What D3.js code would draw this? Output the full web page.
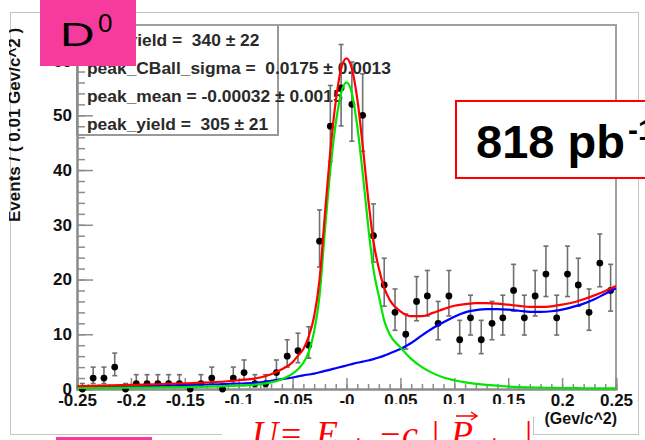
<!DOCTYPE html>
<html>
<head>
<meta charset="utf-8">
<script src="https://cdn.jsdelivr.net/npm/d3@7"></script>
<style>
  html, body { margin: 0; padding: 0; background: #ffffff; }
  svg { display: block; }
</style>
</head>
<body>
<svg id="chart" width="645" height="440"></svg>
<script>
// ---- data: D0 candidates per 0.01 GeV/c^2 bin of U = E_miss - c|P_miss| ----
const binCenters = [
  -0.245, -0.235, -0.225, -0.215, -0.205, -0.195, -0.185, -0.175, -0.165, -0.155,
  -0.145, -0.135, -0.125, -0.115, -0.105, -0.095, -0.085, -0.075, -0.065, -0.055,
  -0.045, -0.035, -0.025, -0.015, -0.005,  0.005,  0.015,  0.025,  0.035,  0.045,
   0.055,  0.065,  0.075,  0.085,  0.095,  0.105,  0.115,  0.125,  0.135,  0.145,
   0.155,  0.165,  0.175,  0.185,  0.195,  0.205,  0.215,  0.225,  0.235,  0.245
];
const counts = [
  0, 2, 2, 4, 0, 1, 1, 1, 1, 1,
  0, 1, 2, 0, 2, 3, 1, 1, 3, 6,
  7, 8, 27, 48, 55, 52, 50, 28, 19, 14,
  10, 16, 17, 12, 17, 9, 13, 9, 12, 13,
  18, 13, 17, 21, 13, 21, 19, 14, 23, 18
];

// fitted curves, sampled along U
const fitU = [
  -0.25, -0.2, -0.15, -0.1, -0.08, -0.07, -0.06, -0.05, -0.045, -0.04,
  -0.035, -0.03, -0.025, -0.02, -0.015, -0.01, -0.005, 0, 0.005, 0.01,
  0.015, 0.02, 0.025, 0.03, 0.035, 0.04, 0.05, 0.06, 0.07, 0.08,
  0.09, 0.1, 0.11, 0.12, 0.13, 0.14, 0.15, 0.16, 0.17, 0.18,
  0.19, 0.2, 0.21, 0.22, 0.23, 0.24, 0.25
];
const fitTotal = [
  0.5, 0.75, 1.05, 1.6, 2.1, 2.7, 3.6, 4.9, 6.1, 7.3,
  9.6, 13.3, 20, 32, 43.5, 52.5, 58.5, 60.4, 58.5, 53,
  44.5, 35, 27, 22, 18.5, 16.3, 14.2, 13.3, 13.3, 13.9,
  14.6, 15.2, 15.5, 15.7, 15.7, 15.6, 15.4, 15.2, 15.0, 15.0,
  15.1, 15.4, 15.8, 16.4, 17.1, 17.9, 18.8
];
const fitSignal = [
  0.2, 0.25, 0.35, 0.6, 0.9, 1.2, 1.8, 2.8, 3.6, 4.8,
  6.8, 10.5, 17, 29, 40, 48.5, 54, 56, 54, 48,
  39.5, 30, 21.8, 17, 12.5, 10, 7.6, 5.5, 4.0, 2.9,
  2.1, 1.6, 1.2, 0.95, 0.75, 0.6, 0.45, 0.35, 0.3, 0.25,
  0.2, 0.18, 0.16, 0.14, 0.12, 0.11, 0.1
];
const fitBackground = [
  0.3, 0.5, 0.7, 1.0, 1.2, 1.5, 1.8, 2.1, 2.3, 2.5,
  2.65, 2.8, 3.05, 3.3, 3.55, 3.8, 4.05, 4.3, 4.55, 4.8,
  5.0, 5.2, 5.45, 5.75, 6.1, 6.5, 7.3, 8.4, 9.8, 11.1,
  12.2, 13.2, 14.0, 14.4, 14.6, 14.6, 14.5, 14.3, 14.1, 14.1,
  14.2, 14.5, 15.0, 15.6, 16.4, 17.4, 18.4
];

const xTickLabels = ["-0.25", "-0.2", "-0.15", "-0.1", "-0.05", "-0", "0.05", "0.1", "0.15", "0.2", "0.25"];
const yTickLabels = ["0", "10", "20", "30", "40", "50", "60"];

const statsLines = [
  "bkg_yield =  340 \u00B1 22",
  "peak_CBall_sigma =  0.0175 \u00B1 0.0013",
  "peak_mean = -0.00032 \u00B1 0.0015",
  "peak_yield =  305 \u00B1 21"
];

// ---- layout ----
const svg = d3.select("#chart");
const frame = { left: 77, right: 616, top: 25, bottom: 389 };
const x = d3.scaleLinear().domain([-0.25, 0.25]).range([frame.left, frame.right]);
const y = d3.scaleLinear().domain([0, 66.5]).range([frame.bottom, frame.top]);
const pink = "#f53c9c";
const axisGrey = "#8c8c8c";
const sansBold = "'Liberation Sans', Arial, sans-serif";

// outer canvas border
svg.append("rect")
  .attr("x", 10.5).attr("y", 12.5).attr("width", 628).attr("height", 422)
  .attr("fill", "none").attr("stroke", "#c4c4c4").attr("stroke-width", 1);

// y-axis title, clipped at the canvas edge
svg.append("clipPath").attr("id", "titleClip")
  .append("rect").attr("x", 9).attr("y", 0).attr("width", 40).attr("height", 440);
svg.append("g").attr("clip-path", "url(#titleClip)")
  .append("text")
  .attr("transform", "translate(20,222) rotate(-90)")
  .attr("font-family", sansBold).attr("font-weight", "bold").attr("font-size", 17)
  .attr("fill", "#111")
  .text("Events / ( 0.01 Gev/c^2 )");

// fit-parameter box
svg.append("rect")
  .attr("x", 77).attr("y", 25).attr("width", 201).attr("height", 110)
  .attr("fill", "#fff").attr("stroke", "#999").attr("stroke-width", 2);
svg.append("g").selectAll("text").data(statsLines).join("text")
  .attr("x", 87).attr("y", (d, i) => 46 + i * 28)
  .attr("font-family", sansBold).attr("font-weight", "bold").attr("font-size", 17.4)
  .attr("fill", "#2a2a2a")
  .attr("xml:space", "preserve")
  .text(d => d);

// plot frame (top and right)
svg.append("path")
  .attr("d", `M${frame.left},${frame.top}H${frame.right}V${frame.bottom}`)
  .attr("fill", "none").attr("stroke", "#a0a0a0").attr("stroke-width", 2);

// y axis: major ticks with labels, minor ticks every 2
const yMajor = yTickLabels.map(Number);
svg.append("g").attr("transform", `translate(${frame.left},0)`)
  .call(d3.axisLeft(y).tickValues(yMajor).tickSize(-16).tickPadding(5)
    .tickFormat((d, i) => yTickLabels[i]));
svg.append("g").attr("transform", `translate(${frame.left},0)`)
  .call(d3.axisLeft(y).tickValues(d3.range(0, 66, 2)).tickSize(-8).tickFormat(""));

// x axis: major every 0.05, minor at each bin edge
const xMajor = xTickLabels.map(Number);
svg.append("g").attr("transform", `translate(0,${frame.bottom})`)
  .call(d3.axisBottom(x).tickValues(xMajor).tickSize(-11).tickPadding(5)
    .tickFormat((d, i) => xTickLabels[i]));
svg.append("g").attr("transform", `translate(0,${frame.bottom})`)
  .call(d3.axisBottom(x).tickValues(d3.range(-25, 26).map(k => k / 100)).tickSize(-5).tickFormat(""));

svg.selectAll(".domain").attr("stroke", axisGrey).attr("stroke-width", 2);
svg.selectAll(".tick line").attr("stroke", axisGrey).attr("stroke-width", 1.5);
svg.selectAll(".tick text")
  .attr("font-family", sansBold).attr("font-weight", "bold").attr("font-size", 17)
  .attr("fill", "#111");

// asymmetric Poisson interval for each bin count
function poissonInterval(n) {
  const s = Math.sqrt(n + 0.25);
  return [n > 0 ? n - s + 0.5 : 0, n + s + 0.5];
}

const pts = binCenters.map((c, i) => ({ c, n: counts[i], iv: poissonInterval(counts[i]) }));
const errG = svg.append("g").attr("stroke", "#707070").attr("stroke-width", 1.6);
errG.selectAll("line.bar").data(pts).join("line").attr("class", "bar")
  .attr("x1", d => x(d.c)).attr("x2", d => x(d.c))
  .attr("y1", d => y(d.iv[0])).attr("y2", d => y(d.iv[1]));
errG.selectAll("line.capHi").data(pts).join("line").attr("class", "capHi")
  .attr("x1", d => x(d.c) - 2.5).attr("x2", d => x(d.c) + 2.5)
  .attr("y1", d => y(d.iv[1])).attr("y2", d => y(d.iv[1]));
errG.selectAll("line.capLo").data(pts.filter(d => d.n > 0)).join("line").attr("class", "capLo")
  .attr("x1", d => x(d.c) - 2.5).attr("x2", d => x(d.c) + 2.5)
  .attr("y1", d => y(d.iv[0])).attr("y2", d => y(d.iv[0]));
svg.append("g").selectAll("circle").data(pts).join("circle")
  .attr("cx", d => x(d.c)).attr("cy", d => y(d.n)).attr("r", 3.4)
  .attr("fill", "#000");

// fit curves: background, signal, total
const line = d3.line().x(d => x(d[0])).y(d => y(d[1])).curve(d3.curveMonotoneX);
const curves = [
  { vals: fitBackground, color: "#0000ff" },
  { vals: fitSignal, color: "#00e600" },
  { vals: fitTotal, color: "#ff0000" }
];
curves.forEach(cv => {
  svg.append("path")
    .datum(fitU.map((u, i) => [u, cv.vals[i]]))
    .attr("d", line)
    .attr("fill", "none").attr("stroke", cv.color).attr("stroke-width", 2.2)
    .attr("stroke-linejoin", "round");
});

// axis unit
svg.append("text")
  .attr("x", 617).attr("y", 424).attr("text-anchor", "end")
  .attr("font-family", sansBold).attr("font-weight", "bold").attr("font-size", 16)
  .attr("fill", "#111")
  .text("(Gev/c^2)");

// luminosity box
svg.append("rect")
  .attr("x", 456).attr("y", 101).attr("width", 200).attr("height", 77)
  .attr("fill", "#fff").attr("stroke", "#ff0000").attr("stroke-width", 2);
const lumi = svg.append("text")
  .attr("x", 476).attr("y", 158)
  .attr("font-family", sansBold).attr("font-weight", "bold").attr("font-size", 47)
  .attr("fill", "#000");
lumi.append("tspan").text("818 pb");
lumi.append("tspan").attr("dx", 3).attr("dy", -18).attr("font-size", 30).text("-1");

// variable definition below the axis
svg.append("rect")
  .attr("x", 222).attr("y", 404).attr("width", 311).attr("height", 36)
  .attr("fill", "#fff");
svg.append("line")
  .attr("x1", 533.5).attr("x2", 533.5).attr("y1", 417).attr("y2", 435)
  .attr("stroke", "#c4c4c4").attr("stroke-width", 1);
const serif = "'Liberation Serif', 'Times New Roman', serif";
const formula = svg.append("text")
  .attr("font-family", serif)
  .attr("font-style", "italic").attr("font-size", 36).attr("fill", "#ff0000");
formula.append("tspan").attr("x", 252).attr("y", 446).text("U");
formula.append("tspan").attr("x", 281).attr("y", 446).attr("font-style", "normal").text("=");
formula.append("tspan").attr("x", 316).attr("y", 446).text("E");
formula.append("tspan").attr("x", 340).attr("y", 452).attr("font-size", 20).text("miss");
formula.append("tspan").attr("x", 380).attr("y", 446).attr("font-style", "normal").text("\u2212");
formula.append("tspan").attr("x", 402).attr("y", 446).text("c");
formula.append("tspan").attr("x", 432).attr("y", 446).attr("font-style", "normal").text("|");
formula.append("tspan").attr("x", 451).attr("y", 446).text("P");
formula.append("tspan").attr("x", 476).attr("y", 452).attr("font-size", 20).text("miss");
formula.append("tspan").attr("x", 525).attr("y", 446).attr("font-style", "normal").text("|");
// vector arrow over P
svg.append("path")
  .attr("d", "M456,416H476M471,412L477,416L471,420")
  .attr("fill", "none").attr("stroke", "#ff0000").attr("stroke-width", 1.5);

// particle tag
svg.append("rect").attr("x", 56).attr("y", 437).attr("width", 96).attr("height", 3).attr("fill", pink);
svg.append("rect").attr("x", 40).attr("y", 0).attr("width", 96).attr("height", 66).attr("fill", pink);
svg.append("text")
  .attr("transform", "translate(60,46) scale(1.45,1)")
  .attr("font-family", sansBold).attr("font-size", 33).attr("fill", "#000")
  .text("D");
svg.append("text")
  .attr("x", 98).attr("y", 32)
  .attr("font-family", sansBold).attr("font-size", 26).attr("fill", "#000")
  .text("0");
</script>
</body>
</html>
